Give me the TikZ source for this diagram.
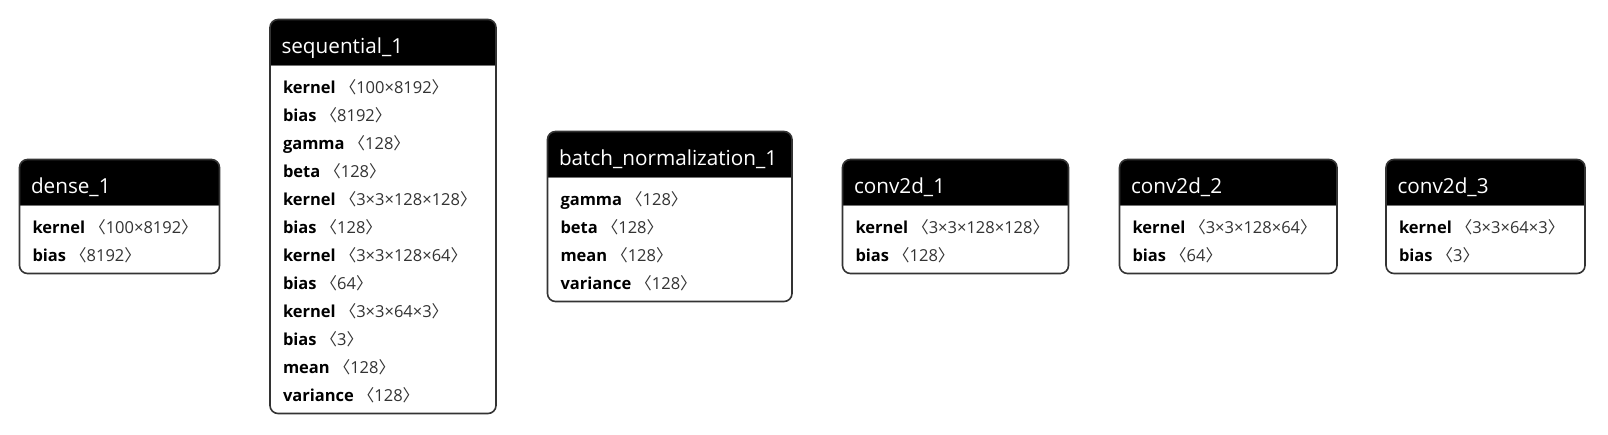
\documentclass[tikz,border=0pt]{standalone}
\usepackage{fontspec}
\setmainfont{Open Sans}
\newfontfamily\cjk{Noto Sans CJK SC}
\usetikzlibrary{positioning,backgrounds}
\newcommand\wshape[2]{\rule[-4pt]{0pt}{24pt}\textbf{#1}\hspace{4pt}{\color{black!80}{\cjk 〈}#2{\cjk 〉}}}
\begin{document}
\begin{tikzpicture}[x=1pt, y=-1pt, every node/.style={outer sep=0pt, inner xsep=13pt, inner ysep=0pt, align=left}, head/.style={text=white, font=\fontsize{20.7}{24}\selectfont, inner xsep=11.5pt, minimum height=46pt, text height=21pt, text depth=0pt}, body/.style={font=\fontsize{16.5}{28}\selectfont}]
	\useasboundingbox (0,0) rectangle (1608,434);
	% layers
	\node[head, text width=177pt, anchor=north west] (dense) at (19.5,159.5) {dense\_1};
	\node[body, text width=174pt, minimum height=68pt, below=0pt of dense] (dense-p) {\wshape{kernel}{100×8192}\\\wshape{bias}{8192}};
	\node[head, text width=203pt, anchor=north west] (seq) at (270,19.5) {sequential\_1};
	\node[body, text width=200pt, minimum height=348pt, below=0pt of seq] (seq-p) {\wshape{kernel}{100×8192}\\\wshape{bias}{8192}\\\wshape{gamma}{128}\\\wshape{beta}{128}\\\wshape{kernel}{3×3×128×128}\\\wshape{bias}{128}\\\wshape{kernel}{3×3×128×64}\\\wshape{bias}{64}\\\wshape{kernel}{3×3×64×3}\\\wshape{bias}{3}\\\wshape{mean}{128}\\\wshape{variance}{128}};
	\node[head, text width=221.5pt, anchor=north west] (bn) at (547.5,131.5) {batch\_normalization\_1};
	\node[body, text width=218.5pt, minimum height=124pt, below=0pt of bn] (bn-p) {\wshape{gamma}{128}\\\wshape{beta}{128}\\\wshape{mean}{128}\\\wshape{variance}{128}};
	\node[head, text width=203pt, anchor=north west] (conv1) at (842.5,159.5) {conv2d\_1};
	\node[body, text width=200pt, minimum height=68pt, below=0pt of conv1] (conv1-p) {\wshape{kernel}{3×3×128×128}\\\wshape{bias}{128}};
	\node[head, text width=194.5pt, anchor=north west] (conv2) at (1119.5,159.5) {conv2d\_2};
	\node[body, text width=191.5pt, minimum height=68pt, below=0pt of conv2] (conv2-p) {\wshape{kernel}{3×3×128×64}\\\wshape{bias}{64}};
	\node[head, text width=176pt, anchor=north west] (conv3) at (1386,159.5) {conv2d\_3};
	\node[body, text width=173pt, minimum height=68pt, below=0pt of conv3] (conv3-p) {\wshape{kernel}{3×3×64×3}\\\wshape{bias}{3}};
	% frames
	\begin{scope}[on background layer]
		\fill[white] (0,0) rectangle (1608,434);
		\foreach \n in {dense,seq,bn,conv1,conv2,conv3}{
			\begin{scope}
				\clip[rounded corners=8pt] (\n.north west) rectangle (\n-p.south east);
				\fill (\n.north west) rectangle (\n.south east);
			\end{scope}
			\draw[black!55] (\n.south west) -- (\n.south east);
			\draw[black!80, line width=1.6pt, rounded corners=8pt] (\n.north west) rectangle (\n-p.south east);
		}
	\end{scope}
\end{tikzpicture}
\end{document}
